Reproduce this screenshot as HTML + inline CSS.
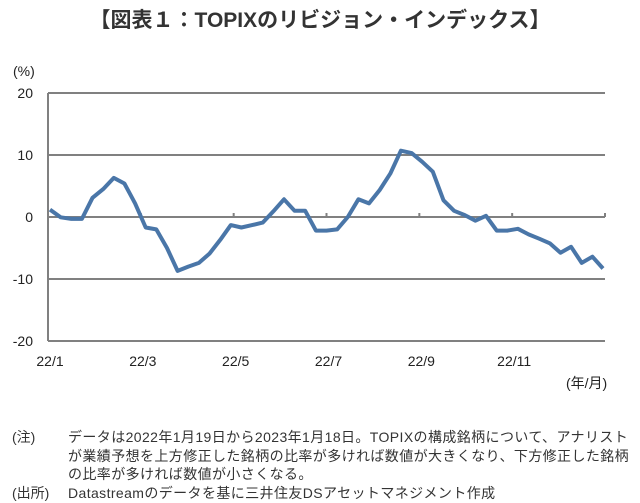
<!DOCTYPE html>
<html><head><meta charset="utf-8"><style>
html,body{margin:0;padding:0;background:#fff;}
body{width:640px;height:503px;overflow:hidden;position:relative;font-family:"Liberation Sans","Noto Sans CJK JP",sans-serif;}
.note{position:absolute;font-size:14px;color:#333;line-height:18.5px;white-space:nowrap;}
</style></head><body>
<svg id="chart" width="640" height="420" style="position:absolute;left:0;top:0" font-family="Liberation Sans, Noto Sans CJK JP, sans-serif">
<text x="320" y="27" text-anchor="middle" font-size="21" font-weight="bold" fill="#333">【図表１：TOPIXのリビジョン・インデックス】</text>
<text x="13" y="76" font-size="14" fill="#222">(%)</text>
<text x="566" y="388" font-size="14" fill="#222">(年/月)</text>
<g id="grid"></g><g id="ticks"></g><g id="series"></g>
</svg>
<div class="note" style="left:12px;top:428px;">(注)</div>
<div class="note" style="left:68px;top:428px;letter-spacing:0.4px;">データは2022年1月19日から2023年1月18日。TOPIXの構成銘柄について、アナリスト<br>が業績予想を上方修正した銘柄の比率が多ければ数値が大きくなり、下方修正した銘柄<br>の比率が多ければ数値が小さくなる。</div>
<div class="note" style="left:12px;top:484px;">(出所)</div>
<div class="note" style="left:68px;top:484px;letter-spacing:0.4px;">Datastreamのデータを基に三井住友DSアセットマネジメント作成</div>
<script>
const values=[1.2,-0.05,-0.3,-0.3,3.1,4.5,6.3,5.4,2.2,-1.7,-2.0,-5.0,-8.7,-8.0,-7.4,-5.9,-3.7,-1.3,-1.7,-1.3,-0.9,0.9,2.85,1.0,1.0,-2.2,-2.2,-2.0,0,2.85,2.2,4.35,7.0,10.7,10.3,8.9,7.3,2.7,1.0,0.3,-0.6,0.2,-2.2,-2.2,-1.9,-2.8,-3.5,-4.25,-5.75,-4.8,-7.4,-6.4,-8.3];
const yTicks=[20,10,0,-10,-20];
const monthLabels=["22/1","22/3","22/5","22/7","22/9","22/11"];
const monthIdx=[0,2,4,6,8,10,12];
const NS="http://www.w3.org/2000/svg";
const X0=48,X1=605,Y0=93,Y1=341;
const y=v=>Y0+(20-v)*(Y1-Y0)/40;
const xi=i=>50+i*(603-50)/(values.length-1);
const xm=m=>X0+m*(X1-X0)/12;
function mk(tag,attrs,parent){const e=document.createElementNS(NS,tag);for(const k in attrs)e.setAttribute(k,attrs[k]);parent.appendChild(e);return e;}
const grid=document.getElementById('grid'),ticks=document.getElementById('ticks'),series=document.getElementById('series');
yTicks.forEach(v=>{
 const l=mk('line',{x1:X0,x2:X1,y1:y(v),y2:y(v),stroke:'#808080','stroke-width':2},grid);
 
 
 const t=mk('text',{x:33,y:y(v)+5,'text-anchor':'end','font-size':14,fill:'#222'},grid);
 t.textContent=v;
 
 
});
const ax=mk('line',{x1:X0,x2:X0,y1:Y0,y2:Y1,stroke:'#808080','stroke-width':2},grid);


monthIdx.forEach(m=>{
 const tk=mk('line',{x1:xm(m),x2:xm(m),y1:y(0)-4,y2:y(0),stroke:'#808080','stroke-width':2},ticks);
 
 
});
monthLabels.forEach((s,i)=>{
 const t=mk('text',{x:xm(i*2)+2,y:366,'text-anchor':'middle','font-size':14,fill:'#222'},ticks);
 t.textContent=s;
 
 
});
const p=mk('polyline',{points:values.map((v,i)=>xi(i).toFixed(1)+','+y(v).toFixed(1)).join(' '),fill:'none',stroke:'#4a76a8','stroke-width':4,'stroke-linejoin':'round'},series);


</script>
</body></html>
